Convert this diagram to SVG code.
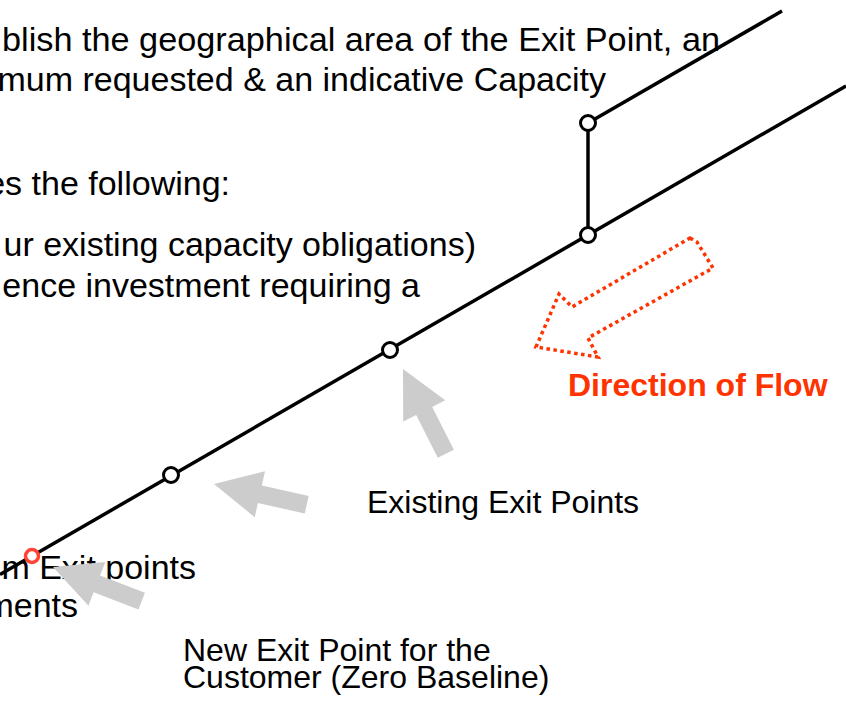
<svg xmlns="http://www.w3.org/2000/svg" width="846" height="721" viewBox="0 0 846 721">
<style>
.txt{font-family:"Liberation Sans",Arial,Helvetica,sans-serif;fill:#000;}
.big{font-size:34px;}
.lbl{font-size:32px;}
.flow{font-family:"Liberation Sans",Arial,Helvetica,sans-serif;font-size:32px;font-weight:bold;fill:#ff3300;}
.pipe{stroke:#000;stroke-width:3.5;fill:none;stroke-linecap:butt;}
.node{fill:#fff;stroke:#000;stroke-width:3;}
.newnode{fill:#fff;stroke:#ff4433;stroke-width:3.5;}
.grey{fill:#cccccc;stroke:none;}
.dotted{fill:none;stroke:#ff3300;stroke-width:3.5;stroke-dasharray:3.5 3.5;stroke-linejoin:miter;}
</style>
<defs>
<polygon id="garrow" points="0,0 47,-23.5 47,-9 95,-9 95,9 47,9 47,23.5"/>
</defs>
<rect width="846" height="721" fill="#fff"/>
<g id="texts">
<text class="txt big" x="2" y="51" textLength="718" lengthAdjust="spacingAndGlyphs">blish the geographical area of the Exit Point, an</text>
<text class="txt big" x="606" y="91" text-anchor="end">mum requested &amp; an indicative Capacity</text>
<text class="txt big" x="230" y="195" text-anchor="end">es the following:</text>
<text class="txt big" x="476" y="256" text-anchor="end">ur existing capacity obligations)</text>
<text class="txt big" x="420" y="297" text-anchor="end">ence investment requiring a</text>
<text class="txt big" x="196" y="579" text-anchor="end">m Exit points</text>
<text class="txt big" x="78" y="617" text-anchor="end">ments</text>
</g>
<g id="connectors">
<line class="pipe" x1="0" y1="574.5" x2="846" y2="86"/>
<line class="pipe" x1="588" y1="123" x2="782" y2="11"/>
<line class="pipe" x1="588" y1="123" x2="588" y2="235"/>
</g>
<g id="node-upper"><circle class="node" cx="588" cy="123" r="7.5"/></g>
<g id="node-junction"><circle class="node" cx="588" cy="235" r="7.5"/></g>
<g id="node-exit2"><circle class="node" cx="390" cy="350" r="7.5"/></g>
<g id="node-exit1"><circle class="node" cx="171" cy="475" r="7.5"/></g>
<g id="node-new"><circle class="newnode" cx="32" cy="556" r="6.5"/></g>
<g id="pointer-arrows">
<use href="#garrow" class="grey" transform="translate(403,369) rotate(63.2)"/>
<use href="#garrow" class="grey" transform="translate(214,484) rotate(12.6)"/>
<use href="#garrow" class="grey" transform="translate(53,567) rotate(21)"/>
</g>
<g id="flow-indicator">
<polygon class="dotted" points="690,238 697,242 713,268 588,338 598,357 536,347 559,294 572,307"/>
<text class="flow" x="568" y="396">Direction of Flow</text>
</g>
<g id="labels">
<text class="txt lbl" x="367" y="513">Existing Exit Points</text>
<text class="txt lbl" x="183" y="661">New Exit Point for the</text>
<text class="txt lbl" x="183" y="688">Customer (Zero Baseline)</text>
</g>
</svg>
